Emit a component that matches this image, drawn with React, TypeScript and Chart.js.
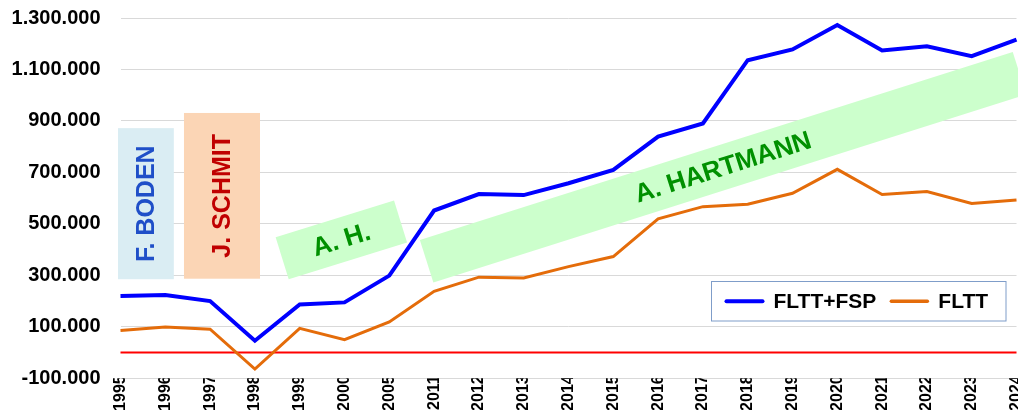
import { useEffect, useRef } from 'react';
import { Chart, registerables } from 'chart.js';

Chart.register(...registerables);

// ---- data ----
const years = ['1995', '1996', '1997', '1998', '1999', '2000', '2005', '2011', '2012', '2013', '2014', '2015', '2016', '2017', '2018', '2019', '2020', '2021', '2022', '2023', '2024'];
const fltFsp = [220000, 224000, 200000, 46000, 187000, 195000, 299000, 552000, 616000, 612000, 658000, 710000, 839000, 890000, 1136000, 1178000, 1273000, 1174000, 1190000, 1152000, 1216000];
const fltt = [86000, 99000, 91000, -64000, 94000, 50000, 119000, 238000, 293000, 290000, 334000, 373000, 520000, 567000, 576000, 619000, 712000, 614000, 626000, 579000, 593000];
const seriesNames = ['FLTT+FSP', 'FLTT'];
const yMin = -100000;
const yMax = 1300000;
const yStep = 200000;

// ---- annotations (data coordinates: x = category index, y = value) ----
const periodBoxes = [
  { text: 'F. BODEN', x0: -0.056, x1: 1.19, y0: 285000, y1: 872000, fill: '#DAEDF3', color: '#1F4FC8' },
  { text: 'J. SCHMIT', x0: 1.417, x1: 3.114, y0: 287000, y1: 931000, fill: '#FBD5B5', color: '#C00000' },
];
const slantedBands = [
  { text: 'A. H.', x: 4.93, y: 438000, w: 124, h: 44, angle: -17.3 },
  { text: 'A. HARTMANN', x: 13.45, y: 720000, w: 622, h: 44.7, angle: -17.6 },
];

const FONT = '"Liberation Sans", Arial, sans-serif';
const BLUE = '#0000FF';
const ORANGE = '#E46C0A';

function fmt(v: number): string {
  const s = Math.abs(v).toString().replace(/\B(?=(\d{3})+(?!\d))/g, '.');
  return (v < 0 ? '-' : '') + s;
}

const annotationPlugin = {
  id: 'annot',
  beforeDatasetsDraw(chart: any) {
    const { ctx, chartArea, scales } = chart;
    const y0 = scales.y.getPixelForValue(0);
    ctx.save();
    ctx.strokeStyle = '#FF0000';
    ctx.lineWidth = 2;
    ctx.beginPath();
    ctx.moveTo(chartArea.left, y0);
    ctx.lineTo(chartArea.right, y0);
    ctx.stroke();
    ctx.restore();
  },
  afterDatasetsDraw(chart: any) {
    const { ctx, scales } = chart;
    const xs = scales.x;
    const ys = scales.y;
    ctx.save();
    for (const b of periodBoxes) {
      const l = xs.getPixelForValue(b.x0);
      const r = xs.getPixelForValue(b.x1);
      const t = ys.getPixelForValue(b.y1);
      const bt = ys.getPixelForValue(b.y0);
      ctx.fillStyle = b.fill;
      ctx.fillRect(l, t, r - l, bt - t);
      ctx.save();
      ctx.translate((l + r) / 2, (t + bt) / 2);
      ctx.rotate(-Math.PI / 2);
      ctx.fillStyle = b.color;
      ctx.font = `bold 25px ${FONT}`;
      ctx.textAlign = 'center';
      ctx.textBaseline = 'middle';
      ctx.fillText(b.text, 0, 1);
      ctx.restore();
    }
    for (const s of slantedBands) {
      const cx = xs.getPixelForValue(s.x);
      const cy = ys.getPixelForValue(s.y);
      ctx.save();
      ctx.translate(cx, cy);
      ctx.rotate((s.angle * Math.PI) / 180);
      ctx.fillStyle = '#CCFFCC';
      ctx.fillRect(-s.w / 2, -s.h / 2, s.w, s.h);
      ctx.fillStyle = '#009000';
      ctx.font = `bold 26px ${FONT}`;
      ctx.textAlign = 'center';
      ctx.textBaseline = 'middle';
      ctx.fillText(s.text, 0, 1);
      ctx.restore();
    }
    ctx.restore();
  },
  afterDraw(chart: any) {
    const { ctx } = chart;
    const left = 711.5;
    const top = 281.5;
    const w = 294.5;
    const h = 39.5;
    ctx.save();
    ctx.fillStyle = '#FFFFFF';
    ctx.fillRect(left, top, w, h);
    ctx.strokeStyle = '#7F9DC9';
    ctx.lineWidth = 1;
    ctx.strokeRect(left, top, w, h);
    ctx.font = `bold 21px ${FONT}`;
    ctx.textBaseline = 'middle';
    ctx.textAlign = 'left';
    const cy = top + h / 2;
    let x = left + 15;
    const colors = [BLUE, ORANGE];
    const widths = [4, 3.5];
    seriesNames.forEach((name, i) => {
      ctx.strokeStyle = colors[i];
      ctx.lineWidth = widths[i];
      ctx.lineCap = 'round';
      ctx.beginPath();
      ctx.moveTo(x, cy);
      ctx.lineTo(x + 36, cy);
      ctx.stroke();
      ctx.fillStyle = '#000000';
      ctx.fillText(name, x + 47, cy + 1);
      x = x + 47 + ctx.measureText(name).width + 15;
    });
    ctx.restore();
  },
};

export default function App() {
  const ref = useRef<HTMLCanvasElement | null>(null);
  useEffect(() => {
    if (!ref.current) return;
    const chart = new Chart(ref.current, {
      type: 'line',
      data: {
        labels: years,
        datasets: [
          { label: seriesNames[0], data: fltFsp, borderColor: BLUE, backgroundColor: BLUE, borderWidth: 4, pointRadius: 0, tension: 0 },
          { label: seriesNames[1], data: fltt, borderColor: ORANGE, backgroundColor: ORANGE, borderWidth: 3, pointRadius: 0, tension: 0 },
        ],
      },
      options: {
        responsive: false,
        animation: false,
        layout: { padding: { left: 0, top: 18, right: 10.5, bottom: 0 } },
        plugins: { legend: { display: false }, tooltip: { enabled: false } },
        scales: {
          x: {
            type: 'category',
            offset: false,
            grid: { display: false, drawTicks: false },
            border: { display: false },
            afterFit: (scale: any) => {
              scale.height = 31.7;
              scale.paddingLeft = 0;
              scale.paddingRight = 0;
            },
            ticks: {
              autoSkip: false,
              maxRotation: 90,
              minRotation: 90,
              padding: -3,
              color: '#000000',
              font: { family: FONT, size: 16, weight: 'bold' },
            },
          },
          y: {
            min: yMin,
            max: yMax,
            grid: { color: '#D9D9D9', lineWidth: 1, drawTicks: false },
            border: { display: false },
            afterFit: (scale: any) => {
              scale.width = 120.5;
              scale.paddingTop = 0;
              scale.paddingBottom = 0;
            },
            ticks: {
              stepSize: yStep,
              padding: 20,
              color: '#000000',
              font: { family: FONT, size: 20, weight: 'bold' },
              callback: (v: any) => fmt(Number(v)),
            },
          },
        },
      },
      plugins: [annotationPlugin],
    });
    return () => chart.destroy();
  }, []);
  return (
    <div style={{ position: 'fixed', left: 0, top: 0, width: 1018, height: 410, overflow: 'hidden', background: '#fff' }}>
      <canvas ref={ref} width={1027} height={410} style={{ display: 'block', width: 1027, height: 410 }} />
    </div>
  );
}
